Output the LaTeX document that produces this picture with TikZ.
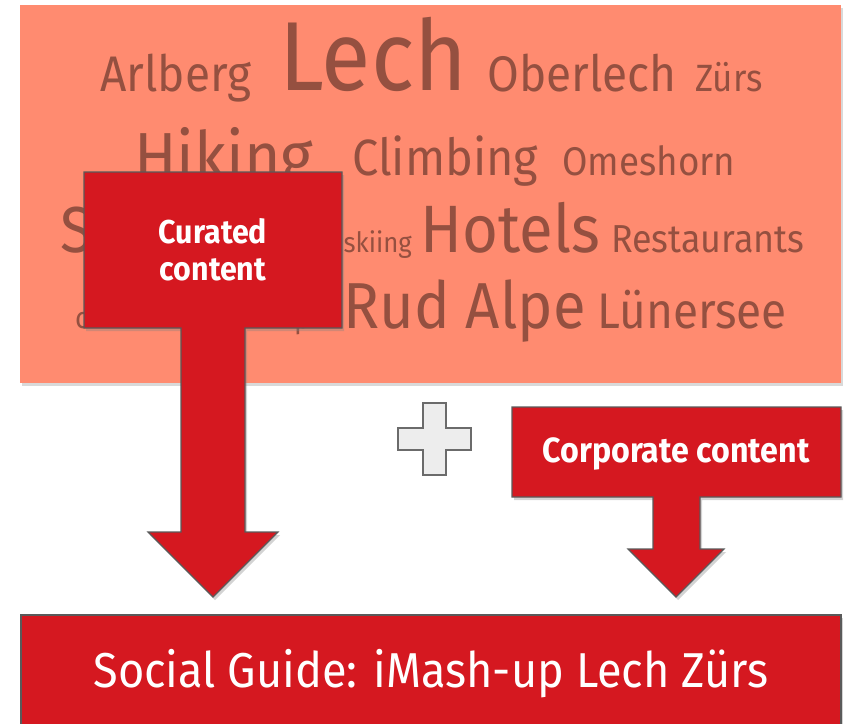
\documentclass[tikz,border=0pt]{standalone}
\usepackage{fontspec}
\setmainfont[FakeStretch=0.92]{Fira Sans}
\usetikzlibrary{shadows}
\definecolor{salmon}{HTML}{FF8B70}
\definecolor{cloudtxt}{HTML}{955040}
\definecolor{boxred}{HTML}{D51820}
\definecolor{edgegray}{HTML}{5A5A5A}
\definecolor{plusfill}{HTML}{EDEDED}
\tikzset{
  cloudword/.style={anchor=base west, inner sep=0pt, text=cloudtxt},
  redshape/.style={fill=boxred, draw=edgegray, line width=1.2pt, line join=miter,
     drop shadow={opacity=0.35, shadow xshift=2pt, shadow yshift=-3pt}},
  whitebold/.style={text=white, inner sep=0pt, anchor=base},
}
\newcommand{\fsz}[1]{\fontsize{#1}{#1}\selectfont}
\begin{document}
\begin{tikzpicture}[x=1pt, y=-1pt]
\useasboundingbox (0,0) rectangle (848,723);
% word cloud background
\fill[salmon, drop shadow={opacity=0.3, shadow xshift=2pt, shadow yshift=-3pt}] (20,5) rectangle (841,383);
% words
\node[cloudword, font=\fsz{50}] (w1) at (100,91) {Arlberg};
\node[cloudword, font=\fsz{98}] (w2) at (279,90) {Lech};
\node[cloudword, font=\fsz{50}] (w3) at (487,91) {Oberlech};
\node[cloudword, font=\fsz{38}] (w4) at (695,91) {Zürs};
\node[cloudword, font=\fsz{68}] (w5) at (134,180) {Hiking};
\node[cloudword, font=\fsz{51}] (w6) at (352,175) {Climbing};
\node[cloudword, font=\fsz{40}] (w7) at (562,175) {Omeshorn};
\node[cloudword, font=\fsz{65}] (w8) at (60,252) {S};
\node[cloudword, font=\fsz{28}, anchor=base east] (w9) at (412,252) {r skiing};
\node[cloudword, font=\fsz{67}] (w10) at (420,252) {Hotels};
\node[cloudword, font=\fsz{39}] (w11) at (611,252) {Restaurants};
\node[cloudword, font=\fsz{30}] (w12) at (75,328) {c};
\node[cloudword, font=\fsz{30}] (w13) at (294,328) {p};
\node[cloudword, font=\fsz{65}] (w14) at (343,328) {Rud Alpe};
\node[cloudword, font=\fsz{50}] (w15) at (597,328) {Lünersee};
% curated content callout
\path[redshape] (84,172) -- (342,172) -- (342,328) -- (245,328) -- (245,532) -- (278,532)
  -- (213,597) -- (148,532) -- (181,532) -- (181,328) -- (84,328) -- cycle;
\node[whitebold, font=\bfseries\fsz{33}] (cur1) at (213,243) {Curated};
\node[whitebold, font=\bfseries\fsz{33}] (cur2) at (213,280) {content};
% plus sign
\path[fill=plusfill, draw=edgegray!90, line width=1.2pt] (423,403) -- (446,403) -- (446,428) -- (471,428)
  -- (471,450) -- (446,450) -- (446,475) -- (423,475) -- (423,450) -- (398,450) -- (398,428)
  -- (423,428) -- cycle;
% corporate content callout
\path[redshape] (512,407) -- (841,407) -- (841,497) -- (700,497) -- (700,549) -- (724,549)
  -- (676,597) -- (628,549) -- (653,549) -- (653,497) -- (512,497) -- cycle;
\node[whitebold, font=\bfseries\fsz{35}] (corp) at (676,462) {Corporate content};
% social guide box
\path[redshape] (21,615) rectangle (841,740);
\node[text=white, inner sep=0pt, font=\fsz{49}, anchor=base] (guide) at (431,687) {Social Guide: iMash-up Lech Zürs};
\end{tikzpicture}
\end{document}
